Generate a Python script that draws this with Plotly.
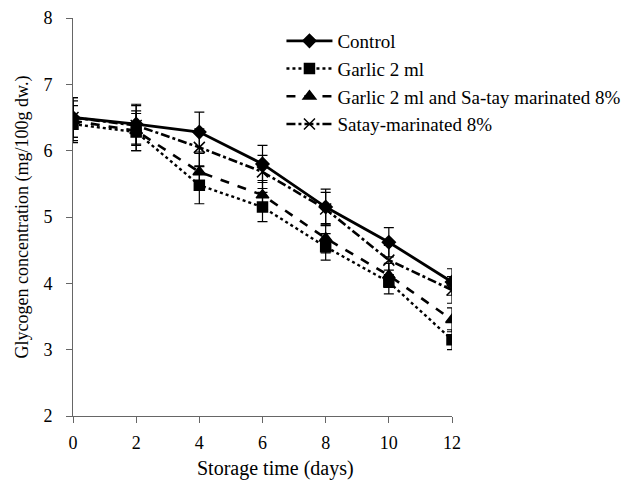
import plotly.graph_objects as go

days = [0, 2, 4, 6, 8, 10, 12]
control = [6.50, 6.40, 6.28, 5.80, 5.15, 4.62, 4.02]
control_err = [0.30, 0.30, 0.30, 0.28, 0.27, 0.22, 0.20]
garlic = [6.40, 6.28, 5.48, 5.15, 4.55, 4.02, 3.15]
garlic_err = [0.28, 0.28, 0.28, 0.22, 0.20, 0.18, 0.15]
garlic_satay = [6.45, 6.30, 5.68, 5.33, 4.68, 4.12, 3.45]
garlic_satay_err = [0.30, 0.30, 0.28, 0.22, 0.22, 0.18, 0.18]
satay = [6.50, 6.38, 6.05, 5.68, 5.12, 4.35, 3.90]
satay_err = [0.30, 0.30, 0.28, 0.25, 0.25, 0.22, 0.20]

series = [
    ("Control", control, control_err, "solid", "diamond", 10, 2.8),
    ("Garlic 2 ml", garlic, garlic_err, "dot", "square", 10, 2.4),
    ("Garlic 2 ml and Sa-tay marinated 8%", garlic_satay, garlic_satay_err, "dash", "triangle-up", 11, 2.6),
    ("Satay-marinated 8%", satay, satay_err, "dashdot", "x-thin", 11, 2.6),
]

fig = go.Figure()
for name, vals, err, dash, sym, size, w in series:
    fig.add_trace(go.Scatter(
        x=days, y=vals, name=name, mode="lines+markers",
        line=dict(color="black", width=w, dash=dash),
        marker=dict(symbol=sym, size=size, color="black",
                    line=dict(color="black", width=1.5)),
        error_y=dict(type="data", array=err, visible=True, color="black",
                     thickness=1.2, width=5),
    ))

font = dict(family="Liberation Serif, Times New Roman, serif", color="black")
fig.update_layout(
    width=636, height=480,
    margin=dict(l=73, r=184, t=18, b=64, autoexpand=False),
    plot_bgcolor="white", paper_bgcolor="white",
    font=dict(size=18, **font),
    showlegend=True,
    legend=dict(x=0.55, y=0.99, xanchor="left", yanchor="top",
                font=dict(size=19, **font), bgcolor="rgba(0,0,0,0)",
                tracegroupgap=0, itemwidth=46),
    xaxis=dict(range=[0, 12], tickvals=days, ticks="outside", ticklen=6,
               tickcolor="#666", showline=True, linecolor="#666", linewidth=1,
               showgrid=False, zeroline=False, ticklabelstandoff=4, automargin=False,
               tickfont=dict(size=18, **font)),
    yaxis=dict(range=[2, 8], tickvals=[2, 3, 4, 5, 6, 7, 8], ticks="outside", ticklen=6,
               tickcolor="#666", showline=True, linecolor="#666", linewidth=1,
               showgrid=False, zeroline=False, ticklabelstandoff=10, automargin=False,
               title=dict(text="Glycogen concentration (mg/100g dw.)", font=dict(size=18, **font), standoff=10),
               tickfont=dict(size=18, **font)),
    annotations=[dict(text="Storage time (days)", xref="paper", yref="paper",
                      x=0.533, y=-0.131, xanchor="center", yanchor="middle",
                      showarrow=False, font=dict(size=20, **font))],
)
fig.write_html("out.html")
